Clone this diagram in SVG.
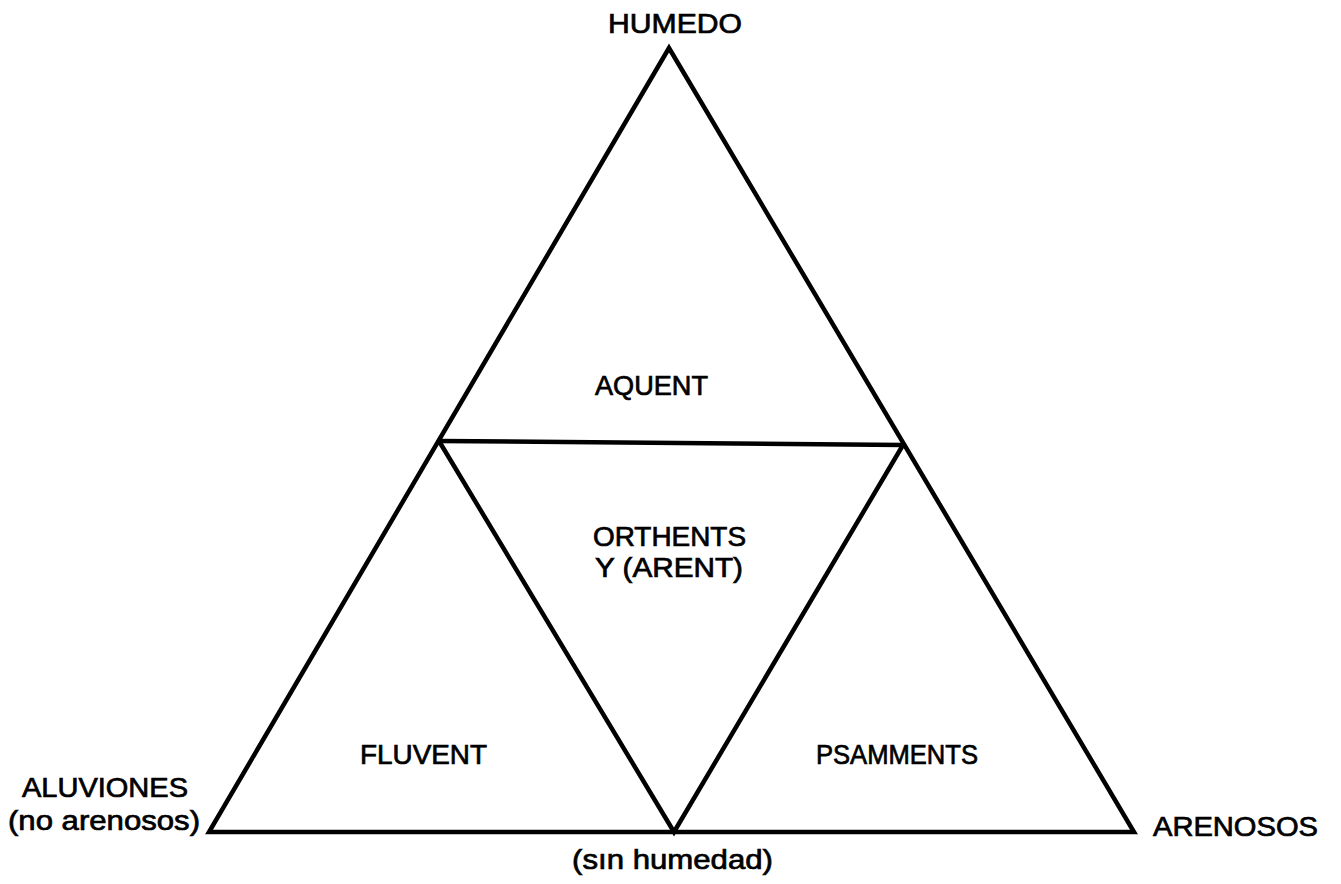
<svg xmlns="http://www.w3.org/2000/svg" width="1341" height="884" viewBox="0 0 1341 884">
<style>
.ln{stroke:#000;stroke-width:4.5;fill:none;stroke-linejoin:miter;stroke-linecap:round}
text{font-family:"Liberation Sans",Arial,sans-serif;font-size:27px;fill:#000;stroke:#000;stroke-width:0.7}
</style>
<rect width="1341" height="884" fill="#fff"/>
<g id="connectors">
<path class="ln" d="M669,48 L209,832 L1134,832 Z"/>
<path class="ln" d="M439,441 L903,445"/>
<path class="ln" d="M439,441 L674,832 L903,445"/>
</g>
<g id="humedo"><text x="608" y="33" textLength="134" lengthAdjust="spacingAndGlyphs">HUMEDO</text></g>
<g id="aquent"><text x="595" y="395" textLength="113" lengthAdjust="spacingAndGlyphs">AQUENT</text></g>
<g id="orthents"><text x="593" y="546" textLength="153" lengthAdjust="spacingAndGlyphs">ORTHENTS</text>
<text x="595" y="577" textLength="148" lengthAdjust="spacingAndGlyphs">Y (ARENT)</text></g>
<g id="fluvent"><text x="360" y="764" textLength="127" lengthAdjust="spacingAndGlyphs">FLUVENT</text></g>
<g id="psamments"><text x="816" y="764" textLength="162" lengthAdjust="spacingAndGlyphs">PSAMMENTS</text></g>
<g id="aluviones"><text x="22" y="797" textLength="166" lengthAdjust="spacingAndGlyphs">ALUVIONES</text>
<text x="8" y="830" textLength="192" lengthAdjust="spacingAndGlyphs">(no arenosos)</text></g>
<g id="arenosos"><text x="1153" y="836" textLength="165" lengthAdjust="spacingAndGlyphs">ARENOSOS</text></g>
<g id="sinhumedad"><text x="572" y="869" textLength="201" lengthAdjust="spacingAndGlyphs">(sın humedad)</text></g>
</svg>
